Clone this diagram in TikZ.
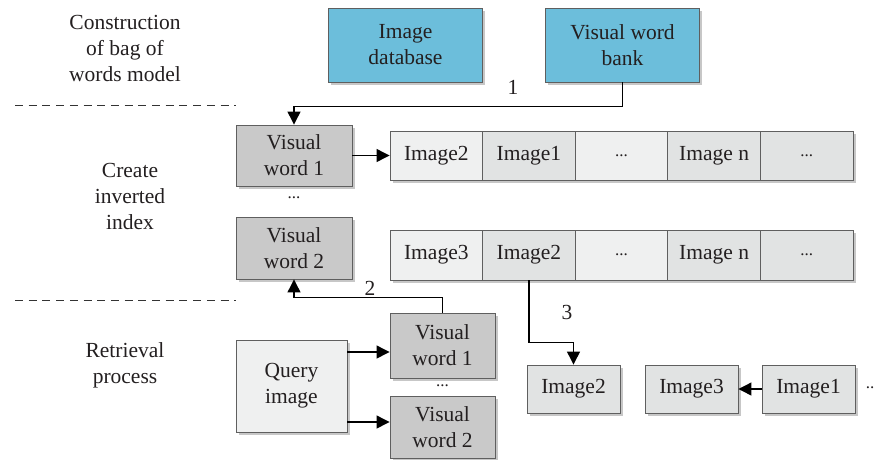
\documentclass[tikz,border=0pt]{standalone}
\usepackage{fontspec}
\setmainfont{Liberation Serif}
\usetikzlibrary{arrows.meta,shadows,calc}
\definecolor{bluebox}{RGB}{108,190,219}
\definecolor{darkcell}{RGB}{201,201,201}
\definecolor{lightcell}{RGB}{239,240,240}
\definecolor{midcell}{RGB}{225,227,227}
\definecolor{bordergrey}{RGB}{95,95,95}
\definecolor{txt}{RGB}{35,31,32}
\newcommand{\dotsx}{{\fontsize{17}{20}\selectfont...}}
\tikzset{
  box/.style={draw=bordergrey, line width=0.9pt, inner sep=0pt, align=center,
    text=txt, font=\fontsize{21.5}{26}\selectfont,
    drop shadow={shadow xshift=2.5pt, shadow yshift=-2.5pt, fill=black!22, opacity=1}},
  bluebx/.style={box, fill=bluebox, minimum width=154pt, minimum height=74pt},
  wordbx/.style={box, fill=darkcell},
  cell/.style={box, minimum width=92.6pt, minimum height=49pt},
  lcell/.style={cell, fill=lightcell},
  mcell/.style={cell, fill=midcell},
  imgbx/.style={box, fill=midcell, minimum width=93pt, minimum height=48pt},
  arr/.style={draw=black, line width=1.2pt, -{Triangle[length=13pt,width=13pt]}},
  lbl/.style={text=txt, font=\fontsize{21.5}{26}\selectfont, align=center, inner sep=0pt},
  sep/.style={draw=black!80, line width=1pt, dash pattern=on 8pt off 5.7pt}
}
\begin{document}
\begin{tikzpicture}[x=1pt,y=-1pt]
\useasboundingbox (0,0) rectangle (878,459);
% left labels
\node[lbl] (t1) at (125,48) {Construction\\of bag of\\words model};
\node[lbl] (t2) at (130,196) {Create\\inverted\\index};
\node[lbl] (t3) at (125,365) {Retrieval\\process};
\coordinate (d1a) at (15,105); \coordinate (d1b) at (236,105);
\coordinate (d2a) at (15,300); \coordinate (d2b) at (236,300);
\draw[sep] (d1a) -- (d1b);
\draw[sep] (d2a) -- (d2b);
% top boxes
\node[bluebx] (db) at (405.5,45) {Image\\database};
\node[bluebx] (vwb) at (622.5,45) {Visual word\\bank};
% index
\node[wordbx, minimum width=116pt, minimum height=61pt] (vw1) at (294,155.5) {Visual\\word 1};
\node[wordbx, minimum width=116pt, minimum height=62pt] (vw2) at (294,248) {Visual\\word 2};
\node[lbl] (dots1) at (294,198) {\dotsx};
% row 1
\node[lcell] (a1) at (436.3,155.5) {Image2};
\node[mcell] (a2) at (528.9,155.5) {Image1};
\node[lcell] (a3) at (621.5,155.5) {\dotsx};
\node[mcell] (a4) at (714.1,155.5) {Image n};
\node[mcell] (a5) at (806.7,155.5) {\dotsx};
% row 2
\node[lcell, minimum height=50pt] (b1) at (436.3,255) {Image3};
\node[mcell, minimum height=50pt] (b2) at (528.9,255) {Image2};
\node[lcell, minimum height=50pt] (b3) at (621.5,255) {\dotsx};
\node[mcell, minimum height=50pt] (b4) at (714.1,255) {Image n};
\node[mcell, minimum height=50pt] (b5) at (806.7,255) {\dotsx};
% retrieval
\node[box, fill=lightcell, minimum width=111pt, minimum height=92pt] (q) at (291.5,386) {Query\\image};
\node[wordbx, minimum width=105pt, minimum height=65pt] (r1) at (442.5,345.5) {Visual\\word 1};
\node[wordbx, minimum width=105pt, minimum height=62pt] (r2) at (442.5,427) {Visual\\word 2};
\node[lbl] (dots2) at (442.5,386) {\dotsx};
\node[imgbx] (i2) at (573.5,389) {Image2};
\node[imgbx] (i3) at (691.5,389) {Image3};
\node[imgbx] (i1) at (808.5,389) {Image1};
\node[lbl] (dots3) at (870,388) {{\fontsize{17}{20}\selectfont..}};
% arrows
\draw[arr] (vwb.south) -- ++(0,24) -| (vw1.north);
\node[lbl] (n1) at (513,87) {1};
\draw[arr] (vw1.east) -- (a1.west);
\draw[arr] (r1.north) -- ++(0,-15) -| (vw2.south);
\node[lbl] (n2) at (370,288) {2};
\draw[arr] (b2.south) -- ++(0,62) -| (i2.north);
\node[lbl] (n3) at (567,312) {3};
\draw[arr] ([yshift=34pt]q.east) -- ([yshift=34pt]q.east -| r1.west);
\draw[arr] ([yshift=-36pt]q.east) -- ([yshift=-36pt]q.east -| r2.west);
\draw[arr] (i1.west) -- (i3.east);
\end{tikzpicture}
\end{document}
